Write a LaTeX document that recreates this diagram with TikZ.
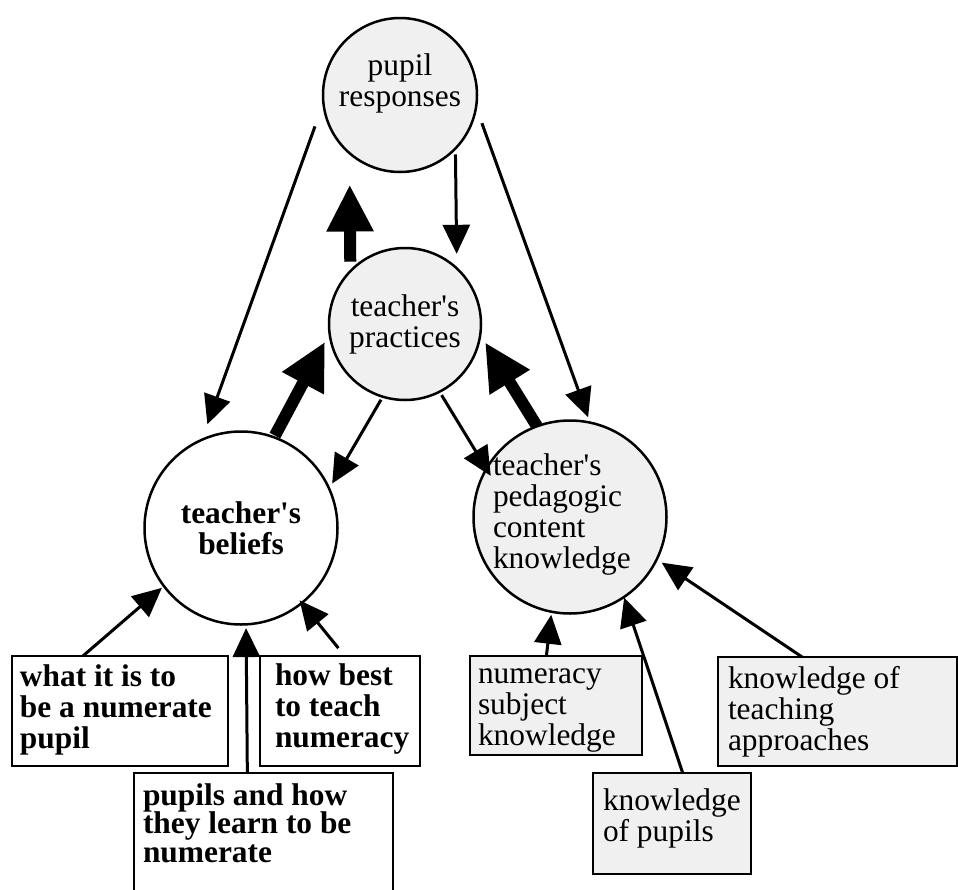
\documentclass[tikz,border=0pt]{standalone}
\usepackage{fontspec}
\setmainfont{Liberation Serif}
\usetikzlibrary{arrows.meta}

\definecolor{palegray}{RGB}{240,240,240}
\newcommand{\bigfont}{\fontsize{31.4}{31}\selectfont}
% box text: width, height, left pad, first baseline, lines
\newcommand{\boxtext}[5]{\parbox[c][#2][t]{#1}{\raggedright\leftskip=#3\relax\rule{0pt}{#4}#5\par}}

\begin{document}
\begin{tikzpicture}[
  x=1pt, y=-1pt,
  font=\bigfont,
  circ/.style={draw, circle, line width=2.5pt, inner sep=1pt, outer sep=0pt, align=center},
  bx/.style={draw, rectangle, line width=2.6pt, inner sep=0pt, outer sep=0pt,
             anchor=north west},
  arrow/.style={-{Triangle[length=29pt,width=27pt]}, line width=3pt},
  heavy/.style={-{Triangle[length=47pt,width=44pt]}, line width=12pt}
]
\useasboundingbox (0,0) rectangle (958,889);
\clip (0,0) rectangle (958,889);

% Circles
\node[circ, fill=palegray, minimum size=154pt, text depth=30pt] (pr) at (400,95)
  {pupil\\responses};
\node[circ, fill=palegray, minimum size=152pt] (tp) at (405,324)
  {teacher\textquotesingle s\\practices};
\node[circ, fill=white, minimum size=193pt, font=\bigfont\bfseries] (tb) at (241,528)
  {teacher\textquotesingle s\\beliefs};
\node[circ, fill=palegray, minimum size=193pt, align=left, text width=154pt,
      text height=14pt, text depth=98pt] (pck) at (570,517)
  {teacher\textquotesingle s\\pedagogic\\content\\knowledge};

% Beliefs boxes
\node[bx, font=\bigfont\bfseries] (wb) at (12,656)
  {\boxtext{216pt}{110pt}{8pt}{30pt}{what it is to\\be a numerate\\pupil}};
\node[bx, font=\bigfont\bfseries] (hb) at (260,656)
  {\boxtext{160pt}{110pt}{15pt}{29pt}{how best\\to teach\\numeracy}};
\node[bx, fill=white, font=\bigfont\bfseries] (pb) at (134,773)
  {\boxtext{259pt}{140pt}{9pt}{32pt}{\baselineskip=28.5pt pupils and how\\they learn to be\\numerate}};

% Knowledge boxes
\node[bx, fill=palegray] (ns) at (470,656)
  {\boxtext{172pt}{99pt}{8pt}{27pt}{numeracy\\subject\\knowledge}};
\node[bx, fill=palegray] (kp) at (593,773)
  {\boxtext{158pt}{101pt}{10pt}{37pt}{knowledge\\of pupils}};
\node[bx, fill=palegray] (kt) at (718,657)
  {\boxtext{239pt}{109pt}{10pt}{31pt}{knowledge of\\teaching\\approaches}};

% Pupil responses feeding back
\draw[arrow, shorten <=24.8pt, shorten >=16.5pt] (pr.186.6) -- (tb.114.9);
\draw[arrow, shorten <=6pt, shorten >=14.6pt] (pr.316.7) -- (tp.47.8);
\draw[arrow, shorten <=17.2pt, shorten >=5.7pt] (pr.351.9) -- (pck.78.7);

% Heavy influences
\draw[heavy, shorten <=2pt, shorten >=9.6pt] (tb.70.7) -- (tp.187.3);
\draw[heavy, shorten <=9.5pt, shorten >=31.4pt] (tp.136.4) -- (pr.229.5);
\draw[heavy, shorten >=9.1pt] (pck.110.6) -- (tp.352.3);

% Practices back to beliefs and knowledge
\draw[arrow, shorten <=3.5pt, shorten >=6pt] (tp.253.8) -- (tb.24.4);
\draw[arrow, shorten <=4pt, shorten >=-8.3pt] (tp.297.4) -- (pck.150.7);

% Box inputs
\draw[arrow, shorten >=2.7pt] (wb.124.2) -- (tb.217.2);
\draw[arrow, shorten <=10.2pt, shorten >=-3.4pt] (hb.85.5) -- (tb.309.3);
\draw[arrow, shorten >=3.7pt] (pb.103.3) -- (tb.273.6);
\draw[arrow, shorten >=3.1pt] (ns.101.4) -- (pck.259.6);
\draw[arrow, shorten >=0.6pt] (kp.78.8) -- (pck.304.5);
\draw[arrow, shorten >=6pt] (kt.123.6) -- (pck.334.5);
\end{tikzpicture}
\end{document}
